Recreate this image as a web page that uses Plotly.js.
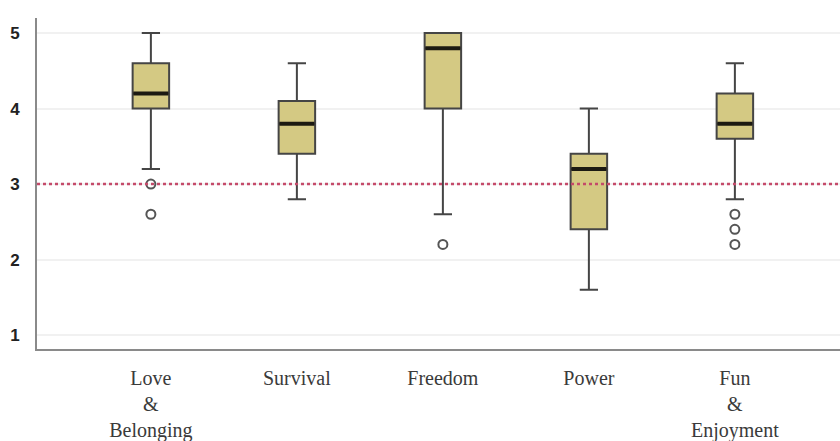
<!DOCTYPE html>
<html>
<head>
<meta charset="utf-8">
<script src="https://cdn.plot.ly/plotly-3.0.1.min.js"></script>
<style>html,body{margin:0;padding:0;background:#fff;}#chart{width:840px;height:441px;}</style>
</head>
<body>
<div id="chart"></div>
<script>
// Data
var categories = ["Love<br>&<br>Belonging", "Survival", "Freedom", "Power", "Fun<br>&<br>Enjoyment"];
var lowerWhisker = [3.2, 2.8, 2.6, 1.6, 2.8];
var q1Values     = [4.0, 3.4, 4.0, 2.4, 3.6];
var medianValues = [4.2, 3.8, 4.8, 3.2, 3.8];
var q3Values     = [4.6, 4.1, 5.0, 3.4, 4.2];
var upperWhisker = [5.0, 4.6, 5.0, 4.0, 4.6];
var outlierCategory = ["Love<br>&<br>Belonging", "Love<br>&<br>Belonging", "Freedom",
                       "Fun<br>&<br>Enjoyment", "Fun<br>&<br>Enjoyment", "Fun<br>&<br>Enjoyment"];
var outlierValues = [3.0, 2.6, 2.2, 2.6, 2.4, 2.2];
var referenceLevel = 3;
var yTicks = [1, 2, 3, 4, 5];

var boxTrace = {
  type: "box",
  x: categories,
  q1: q1Values,
  median: medianValues,
  q3: q3Values,
  lowerfence: lowerWhisker,
  upperfence: upperWhisker,
  width: 0.25,
  whiskerwidth: 0.5,
  fillcolor: "#d4c983",
  line: {color: "#454545", width: 2},
  boxpoints: false,
  hoverinfo: "skip",
  showlegend: false
};

var medianTrace = {
  type: "box",
  x: categories,
  q1: medianValues,
  median: medianValues,
  q3: medianValues,
  lowerfence: medianValues,
  upperfence: medianValues,
  width: 0.24,
  whiskerwidth: 0,
  fillcolor: "rgba(0,0,0,0)",
  line: {color: "#1c1a12", width: 4},
  boxpoints: false,
  hoverinfo: "skip",
  showlegend: false
};

var outlierTrace = {
  type: "scatter",
  mode: "markers",
  x: outlierCategory,
  y: outlierValues,
  marker: {symbol: "circle-open", size: 9, color: "#555555", line: {width: 2, color: "#555555"}},
  hoverinfo: "skip",
  showlegend: false
};

var layout = {
  width: 840,
  height: 441,
  margin: {l: 37, r: 0, t: 18, b: 92},
  paper_bgcolor: "#ffffff",
  plot_bgcolor: "#ffffff",
  boxmode: "overlay",
  showlegend: false,
  xaxis: {
    type: "category",
    categoryorder: "array",
    categoryarray: categories,
    range: [-0.78, 4.72],
    showgrid: false,
    zeroline: false,
    showline: true,
    linecolor: "#8a8a8a",
    linewidth: 2,
    ticks: "",
    ticklabelstandoff: 10,
    tickfont: {family: "Liberation Serif, Times New Roman, serif", size: 20, color: "#3a3a3a"}
  },
  yaxis: {
    range: [0.815, 5.2],
    tickvals: yTicks,
    ticktext: yTicks.map(function(v){ return "<b>" + v + "</b>"; }),
    showgrid: true,
    gridcolor: "#f1f1f1",
    gridwidth: 2,
    zeroline: false,
    showline: true,
    linecolor: "#8a8a8a",
    linewidth: 2,
    ticks: "",
    ticklabelstandoff: 12,
    tickfont: {family: "Liberation Sans, Arial, sans-serif", size: 17, color: "#222222"}
  },
  shapes: [{
    type: "line",
    xref: "paper", yref: "y",
    x0: 0, x1: 1,
    y0: referenceLevel, y1: referenceLevel,
    layer: "above",
    line: {color: "#c44a6a", width: 2.5, dash: "dot"}
  }]
};

Plotly.newPlot("chart", [boxTrace, medianTrace, outlierTrace], layout, {displayModeBar: false, staticPlot: true});
</script>
</body>
</html>
